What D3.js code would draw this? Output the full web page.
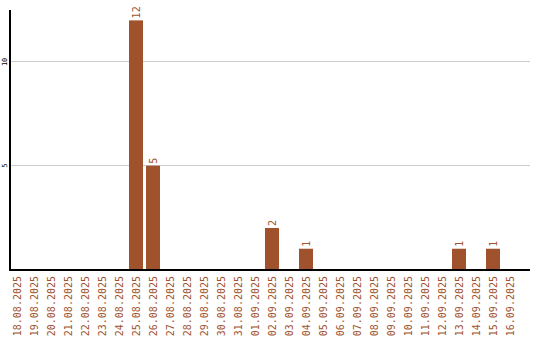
<!DOCTYPE html>
<html><head><meta charset="utf-8">
<script src="https://cdn.jsdelivr.net/npm/d3@7"></script>
<style>body{margin:0;background:#fff}svg{display:block}</style>
</head><body>
<svg id="c" width="540" height="340"></svg>
<script>
const categories = ["18.08.2025","19.08.2025","20.08.2025","21.08.2025","22.08.2025","23.08.2025","24.08.2025","25.08.2025","26.08.2025","27.08.2025","28.08.2025","29.08.2025","30.08.2025","31.08.2025","01.09.2025","02.09.2025","03.09.2025","04.09.2025","05.09.2025","06.09.2025","07.09.2025","08.09.2025","09.09.2025","10.09.2025","11.09.2025","12.09.2025","13.09.2025","14.09.2025","15.09.2025","16.09.2025"];
const values = [0,0,0,0,0,0,0,12,5,0,0,0,0,0,0,2,0,1,0,0,0,0,0,0,0,0,1,0,1,0];
const yTicks = [5,10];

(function(){
const svg = d3.select("#c");
const mLeft = 10, mRight = 530, mTop = 10, mBottom = 269.5, plotEnd = 520;
const color = "#a0522d";
const font = "DejaVu Sans Mono, monospace";
const x = d3.scaleBand().domain(categories).range([mLeft, plotEnd]).padding(0);
const barW = x.bandwidth() - 3;
const y = d3.scaleLinear().domain([0, 12.5]).range([mBottom, mTop]);

svg.append("g").selectAll("line").data(yTicks).join("line")
  .attr("x1", mLeft).attr("x2", mRight)
  .attr("y1", d => Math.round(y(d)) - 0.5).attr("y2", d => Math.round(y(d)) - 0.5)
  .attr("stroke", "#ccc").attr("stroke-width", 1);

svg.append("g").selectAll("text").data(yTicks).join("text")
  .attr("transform", d => `translate(7,${y(d)}) rotate(-90)`)
  .attr("text-anchor", "middle")
  .attr("font-family", font).attr("font-size", 7)
  .attr("fill", "#000").text(d => d);

const data = categories.map((c, i) => ({c, v: values[i]}));
svg.append("g").selectAll("rect").data(data.filter(d => d.v > 0)).join("rect")
  .attr("x", d => x(d.c)).attr("width", barW)
  .attr("y", d => y(d.v)).attr("height", d => mBottom - y(d.v))
  .attr("fill", color);

svg.append("g").selectAll("text").data(data.filter(d => d.v > 0)).join("text")
  .attr("transform", d => `translate(${x(d.c) + barW / 2 + 3.5},${y(d.v) - 2}) rotate(-90)`)
  .attr("text-anchor", "start")
  .attr("font-family", font).attr("font-size", 10)
  .attr("fill", color).text(d => d.v);

svg.append("line").attr("x1", mLeft).attr("x2", mLeft).attr("y1", mTop).attr("y2", 271)
  .attr("stroke", "#000").attr("stroke-width", 2);
svg.append("line").attr("x1", mLeft).attr("x2", mRight).attr("y1", 270).attr("y2", 270)
  .attr("stroke", "#000").attr("stroke-width", 2);

svg.append("g").selectAll("text").data(categories).join("text")
  .attr("transform", d => `translate(${x(d) + barW / 2 + 3.5},276) rotate(-90)`)
  .attr("text-anchor", "end")
  .attr("font-family", font).attr("font-size", 10)
  .attr("fill", color).text(d => d);
})();
</script>
</body></html>
